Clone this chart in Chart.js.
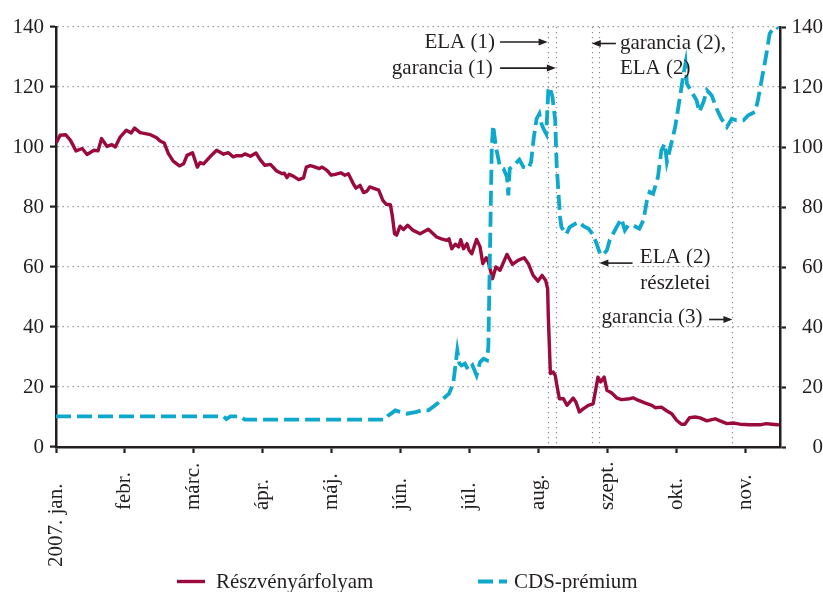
<!DOCTYPE html>
<html>
<head>
<meta charset="utf-8">
<script src="https://cdn.jsdelivr.net/npm/chart.js@4"></script>
<style>
  html, body { margin: 0; padding: 0; background: #fff; }
</style>
</head>
<body>
<canvas id="chart" width="823" height="592"></canvas>
<script>
// x values are in months from 2007 Jan 1 (0 = jan., 1 = febr., ...)
const monthLabels = ['2007. jan.', 'febr.', 'márc.', 'ápr.', 'máj.', 'jún.', 'júl.', 'aug.', 'szept.', 'okt.', 'nov.'];

const priceX = [
  0.01, 0.06, 0.14, 0.21, 0.29, 0.38, 0.45, 0.55, 0.61, 0.66,
  0.74, 0.81, 0.86, 0.93, 1.02, 1.09, 1.14, 1.22, 1.37, 1.46,
  1.51, 1.57, 1.63, 1.70, 1.79, 1.85, 1.90, 1.98, 2.05, 2.09,
  2.14, 2.24, 2.33, 2.43, 2.50, 2.57, 2.62, 2.70, 2.74, 2.82,
  2.90, 2.96, 3.03, 3.11, 3.20, 3.28, 3.31, 3.35, 3.38, 3.44,
  3.52, 3.59, 3.63, 3.69, 3.76, 3.82, 3.86, 3.93, 3.99, 4.05,
  4.13, 4.19, 4.24, 4.31, 4.35, 4.41, 4.46, 4.51, 4.55, 4.60,
  4.68, 4.74, 4.79, 4.85, 4.88, 4.91, 4.94, 4.99, 5.04, 5.10,
  5.18, 5.28, 5.40, 5.47, 5.52, 5.59, 5.67, 5.70, 5.74, 5.79,
  5.84, 5.87, 5.91, 5.96, 5.99, 6.03, 6.10, 6.15, 6.19, 6.24,
  6.27, 6.33, 6.38, 6.44, 6.54, 6.62, 6.70, 6.79, 6.85, 6.92,
  6.99, 7.05, 7.10, 7.13, 7.14, 7.17, 7.21, 7.24, 7.26, 7.30,
  7.36, 7.41, 7.50, 7.54, 7.59, 7.65, 7.72, 7.79, 7.86, 7.90,
  7.95, 7.99, 8.06, 8.13, 8.20, 8.32, 8.37, 8.44, 8.54, 8.64,
  8.69, 8.78, 8.86, 8.93, 9.00, 9.07, 9.12, 9.19, 9.27, 9.34,
  9.44, 9.51, 9.56, 9.63, 9.73, 9.82, 9.92, 10.06, 10.21, 10.30,
  10.38, 10.47
];
const priceY = [
  101.7, 103.9, 104.1, 102.2, 98.7, 99.5, 97.5, 98.9, 98.7, 102.8,
  100.2, 100.8, 100.0, 103.3, 105.6, 104.7, 106.3, 104.8, 104.1, 103.1,
  102.0, 101.3, 97.8, 95.3, 93.7, 94.4, 97.2, 98.1, 93.3, 94.8,
  94.4, 96.9, 98.9, 97.6, 98.1, 96.7, 97.1, 97.1, 97.7, 96.9,
  98.0, 95.8, 93.9, 94.2, 92.0, 91.1, 91.3, 89.8, 90.9, 90.3,
  89.1, 89.7, 93.3, 93.8, 93.3, 92.8, 93.3, 92.2, 90.6, 90.9,
  91.4, 90.6, 91.1, 87.8, 86.3, 87.2, 84.8, 85.3, 86.7, 86.3,
  85.6, 82.2, 80.9, 80.8, 76.7, 71.1, 70.6, 73.6, 72.5, 73.9,
  72.2, 71.1, 72.6, 71.1, 70.0, 69.4, 68.9, 69.4, 66.1, 67.6,
  66.7, 69.1, 66.1, 67.8, 65.6, 64.4, 69.2, 66.7, 61.1, 63.1,
  61.7, 56.1, 60.0, 58.9, 64.2, 60.9, 62.2, 63.1, 61.1, 57.2,
  55.3, 57.2, 55.6, 52.8, 43.3, 24.5, 25.0, 23.9, 21.1, 16.1,
  16.1, 13.9, 16.3, 15.0, 11.7, 12.8, 13.9, 14.4, 23.3, 21.7,
  23.3, 18.9, 18.0, 16.4, 15.8, 16.1, 16.4, 15.6, 14.7, 13.9,
  13.1, 13.3, 12.0, 11.1, 8.9, 7.6, 7.6, 9.8, 10.0, 9.7,
  8.7, 9.1, 9.4, 8.7, 7.8, 8.0, 7.6, 7.4, 7.4, 7.8,
  7.6, 7.4
];

const cdsX = [
  0.00, 2.43, 2.47, 2.53, 2.67, 2.74, 4.77, 4.82, 4.87, 4.92,
  4.99, 5.09, 5.23, 5.30, 5.40, 5.50, 5.59, 5.70, 5.76, 5.82,
  5.85, 5.88, 5.93, 5.98, 6.04, 6.10, 6.15, 6.20, 6.25, 6.27,
  6.32, 6.34, 6.38, 6.44, 6.49, 6.54, 6.56, 6.58, 6.66, 6.72,
  6.78, 6.85, 6.89, 6.93, 6.97, 7.01, 7.04, 7.07, 7.11, 7.14,
  7.16, 7.20, 7.24, 7.26, 7.31, 7.33, 7.40, 7.45, 7.53, 7.59,
  7.65, 7.72, 7.78, 7.84, 7.89, 7.93, 7.99, 8.03, 8.13, 8.20,
  8.25, 8.30, 8.37, 8.46, 8.52, 8.57, 8.61, 8.66, 8.73, 8.78,
  8.83, 8.86, 8.90, 8.98, 9.05, 9.10, 9.13, 9.15, 9.22, 9.29,
  9.33, 9.39, 9.44, 9.51, 9.58, 9.65, 9.73, 9.80, 9.87, 9.97,
  10.04, 10.14, 10.18, 10.26, 10.30, 10.35, 10.40, 10.45, 10.48
];
const cdsY = [
  10.2, 10.2, 9.3, 10.2, 10.2, 9.1, 9.1, 10.5, 11.3, 12.2,
  11.7, 11.1, 11.7, 12.2, 12.2, 13.9, 15.6, 17.8, 21.1, 32.2,
  27.8, 27.2, 27.8, 25.6, 27.2, 23.9, 28.3, 29.4, 28.9, 33.3,
  100.0, 107.2, 100.0, 93.3, 92.8, 90.0, 83.9, 92.8, 94.4, 95.8,
  93.3, 92.8, 95.0, 103.3, 109.4, 111.1, 107.8, 106.1, 104.4, 118.9,
  120.0, 116.7, 108.9, 94.4, 76.7, 73.3, 70.9, 73.3, 74.4, 75.0,
  73.6, 72.8, 71.1, 67.8, 64.4, 63.9, 65.6, 68.9, 73.3, 76.1,
  72.2, 73.9, 73.9, 72.8, 75.6, 82.2, 85.0, 84.4, 90.0, 98.9,
  101.1, 95.0, 98.9, 106.7, 116.7, 124.4, 128.0, 121.1, 118.3, 115.6,
  111.7, 115.0, 118.9, 117.2, 112.8, 109.4, 106.7, 109.4, 108.9, 108.9,
  110.6, 111.7, 115.6, 125.6, 130.6, 137.8, 139.5, 140.0, 139.5
];

// event dates (vertical dotted lines)
const eventX = [7.13, 7.25, 7.77, 7.88, 9.81];

const ink = '#231f20';
const maroon = '#9a0b3c';
const cyan = '#0ea8cc';
const gridGrey = '#8c8c8c';
const dots = [1.3, 3.7];
const fontFamily = '"Liberation Serif", "Times New Roman", serif';
const font = { family: fontFamily, size: 21 };

const pts = (xs, ys) => xs.map((x, i) => ({ x: x, y: ys[i] }));

const notesPlugin = {
  id: 'notes',
  beforeDatasetsDraw(chart) {
    const { ctx, chartArea, scales } = chart;
    ctx.save();
    ctx.strokeStyle = gridGrey;
    ctx.lineWidth = 1.2;
    ctx.setLineDash(dots);
    eventX.forEach(v => {
      const x = Math.round(scales.x.getPixelForValue(v)) + 0.5;
      ctx.beginPath();
      ctx.moveTo(x, chartArea.top);
      ctx.lineTo(x, chartArea.bottom);
      ctx.stroke();
    });
    ctx.restore();
  },
  afterDraw(chart) {
    const { ctx, chartArea, scales } = chart;
    const px = v => scales.x.getPixelForValue(v);
    const py = v => scales.y.getPixelForValue(v);

    ctx.save();
    ctx.fillStyle = ink;
    ctx.font = `21px ${fontFamily}`;

    // month labels, rotated
    monthLabels.forEach((label, i) => {
      const x = px(i);
      const y = i === 0 ? chartArea.bottom + 120 : chartArea.bottom + 63;
      ctx.save();
      ctx.translate(x, y);
      ctx.rotate(-Math.PI / 2);
      ctx.textAlign = 'left';
      ctx.textBaseline = 'middle';
      ctx.fillText(label, 0, 0);
      ctx.restore();
    });

    // annotations
    const notes = [
      { text: 'ELA (1)', x: 6.367, y: 135, align: 'right' },
      { text: 'garancia (1)', x: 6.333, y: 126.3, align: 'right' },
      { text: 'garancia (2),', x: 8.178, y: 134.5, align: 'left' },
      { text: 'ELA (2)', x: 8.178, y: 126.1, align: 'left' },
      { text: 'ELA (2)', x: 8.467, y: 63.3, align: 'left' },
      { text: 'részletei', x: 8.475, y: 54.5, align: 'left' },
      { text: 'garancia (3)', x: 7.913, y: 43.3, align: 'left' }
    ];
    ctx.textBaseline = 'middle';
    notes.forEach(n => {
      ctx.textAlign = n.align;
      ctx.fillText(n.text, px(n.x), py(n.y));
    });

    const arrows = [
      { from: 6.44, to: eventX[0], y: 135 },
      { from: 6.44, to: eventX[1], y: 126.3 },
      { from: 8.12, to: eventX[2], y: 134.5 },
      { from: 8.362, to: eventX[3], y: 61.3 },
      { from: 9.472, to: eventX[4], y: 42.5 }
    ];
    ctx.strokeStyle = ink;
    ctx.lineWidth = 1.6;
    arrows.forEach(a => {
      const x1 = px(a.from), x2 = px(a.to), y = py(a.y);
      const dir = x2 > x1 ? 1 : -1;
      ctx.beginPath();
      ctx.moveTo(x1, y);
      ctx.lineTo(x2 - dir * 6, y);
      ctx.stroke();
      ctx.beginPath();
      ctx.moveTo(x2, y);
      ctx.lineTo(x2 - dir * 9, y - 3.5);
      ctx.lineTo(x2 - dir * 9, y + 3.5);
      ctx.closePath();
      ctx.fill();
    });

    // legend
    const items = [
      { ds: chart.data.datasets[0], x1: 177, x2: 205, tx: 216 },
      { ds: chart.data.datasets[1], x1: 478, x2: 507, tx: 514 }
    ];
    items.forEach(it => {
      ctx.save();
      ctx.strokeStyle = it.ds.borderColor;
      ctx.lineWidth = it.ds.borderWidth;
      ctx.setLineDash(it.ds.borderDash || []);
      ctx.beginPath();
      ctx.moveTo(it.x1, 581.5);
      ctx.lineTo(it.x2, 581.5);
      ctx.stroke();
      ctx.restore();
      ctx.textAlign = 'left';
      ctx.textBaseline = 'alphabetic';
      ctx.fillText(it.ds.label, it.tx, 588);
    });
    ctx.restore();
  }
};

new Chart(document.getElementById('chart'), {
  type: 'line',
  data: {
    datasets: [
      {
        label: 'Részvényárfolyam',
        data: pts(priceX, priceY),
        borderColor: maroon,
        borderWidth: 3.4,
        yAxisID: 'y',
        pointRadius: 0,
        tension: 0,
        borderJoinStyle: 'round',
        borderCapStyle: 'round',
        fill: false
      },
      {
        label: 'CDS-prémium',
        data: pts(cdsX, cdsY),
        borderColor: cyan,
        borderWidth: 3.8,
        borderDash: [15, 6],
        yAxisID: 'y2',
        pointRadius: 0,
        tension: 0,
        fill: false,
        order: -1
      }
    ]
  },
  options: {
    responsive: false,
    devicePixelRatio: 1,
    animation: false,
    events: [],
    layout: { padding: { top: 27, bottom: 24, left: 0, right: 0 } },
    plugins: {
      legend: { display: false },
      tooltip: { enabled: false }
    },
    scales: {
      x: {
        type: 'linear',
        min: 0,
        max: 10.5,
        afterFit: s => { s.height = 121; },
        afterBuildTicks: s => { s.ticks = monthLabels.map((_, i) => ({ value: i })); },
        ticks: { display: false },
        grid: {
          drawOnChartArea: false,
          drawTicks: true,
          tickLength: 6,
          tickColor: ink,
          tickWidth: 2.2
        },
        border: { color: ink, width: 2.5 }
      },
      y: {
        position: 'left',
        min: 0,
        max: 140,
        afterFit: s => { s.width = 56; },
        ticks: { stepSize: 20, padding: 6, color: ink, font: font },
        grid: {
          color: gridGrey,
          lineWidth: 1.2,
          tickLength: 6,
          tickColor: ink,
          tickWidth: 2.2,
          tickBorderDash: [],
          tickBorderDashOffset: 0
        },
        border: { color: ink, width: 2.5, dash: dots }
      },
      y2: {
        position: 'right',
        min: 0,
        max: 140,
        afterFit: s => { s.width = 43; },
        ticks: { stepSize: 20, padding: 4, color: ink, font: font, crossAlign: 'far' },
        grid: {
          drawOnChartArea: false,
          tickLength: 6,
          tickColor: ink,
          tickWidth: 2.2
        },
        border: { color: ink, width: 2.5 }
      }
    }
  },
  plugins: [notesPlugin]
});
</script>
</body>
</html>
